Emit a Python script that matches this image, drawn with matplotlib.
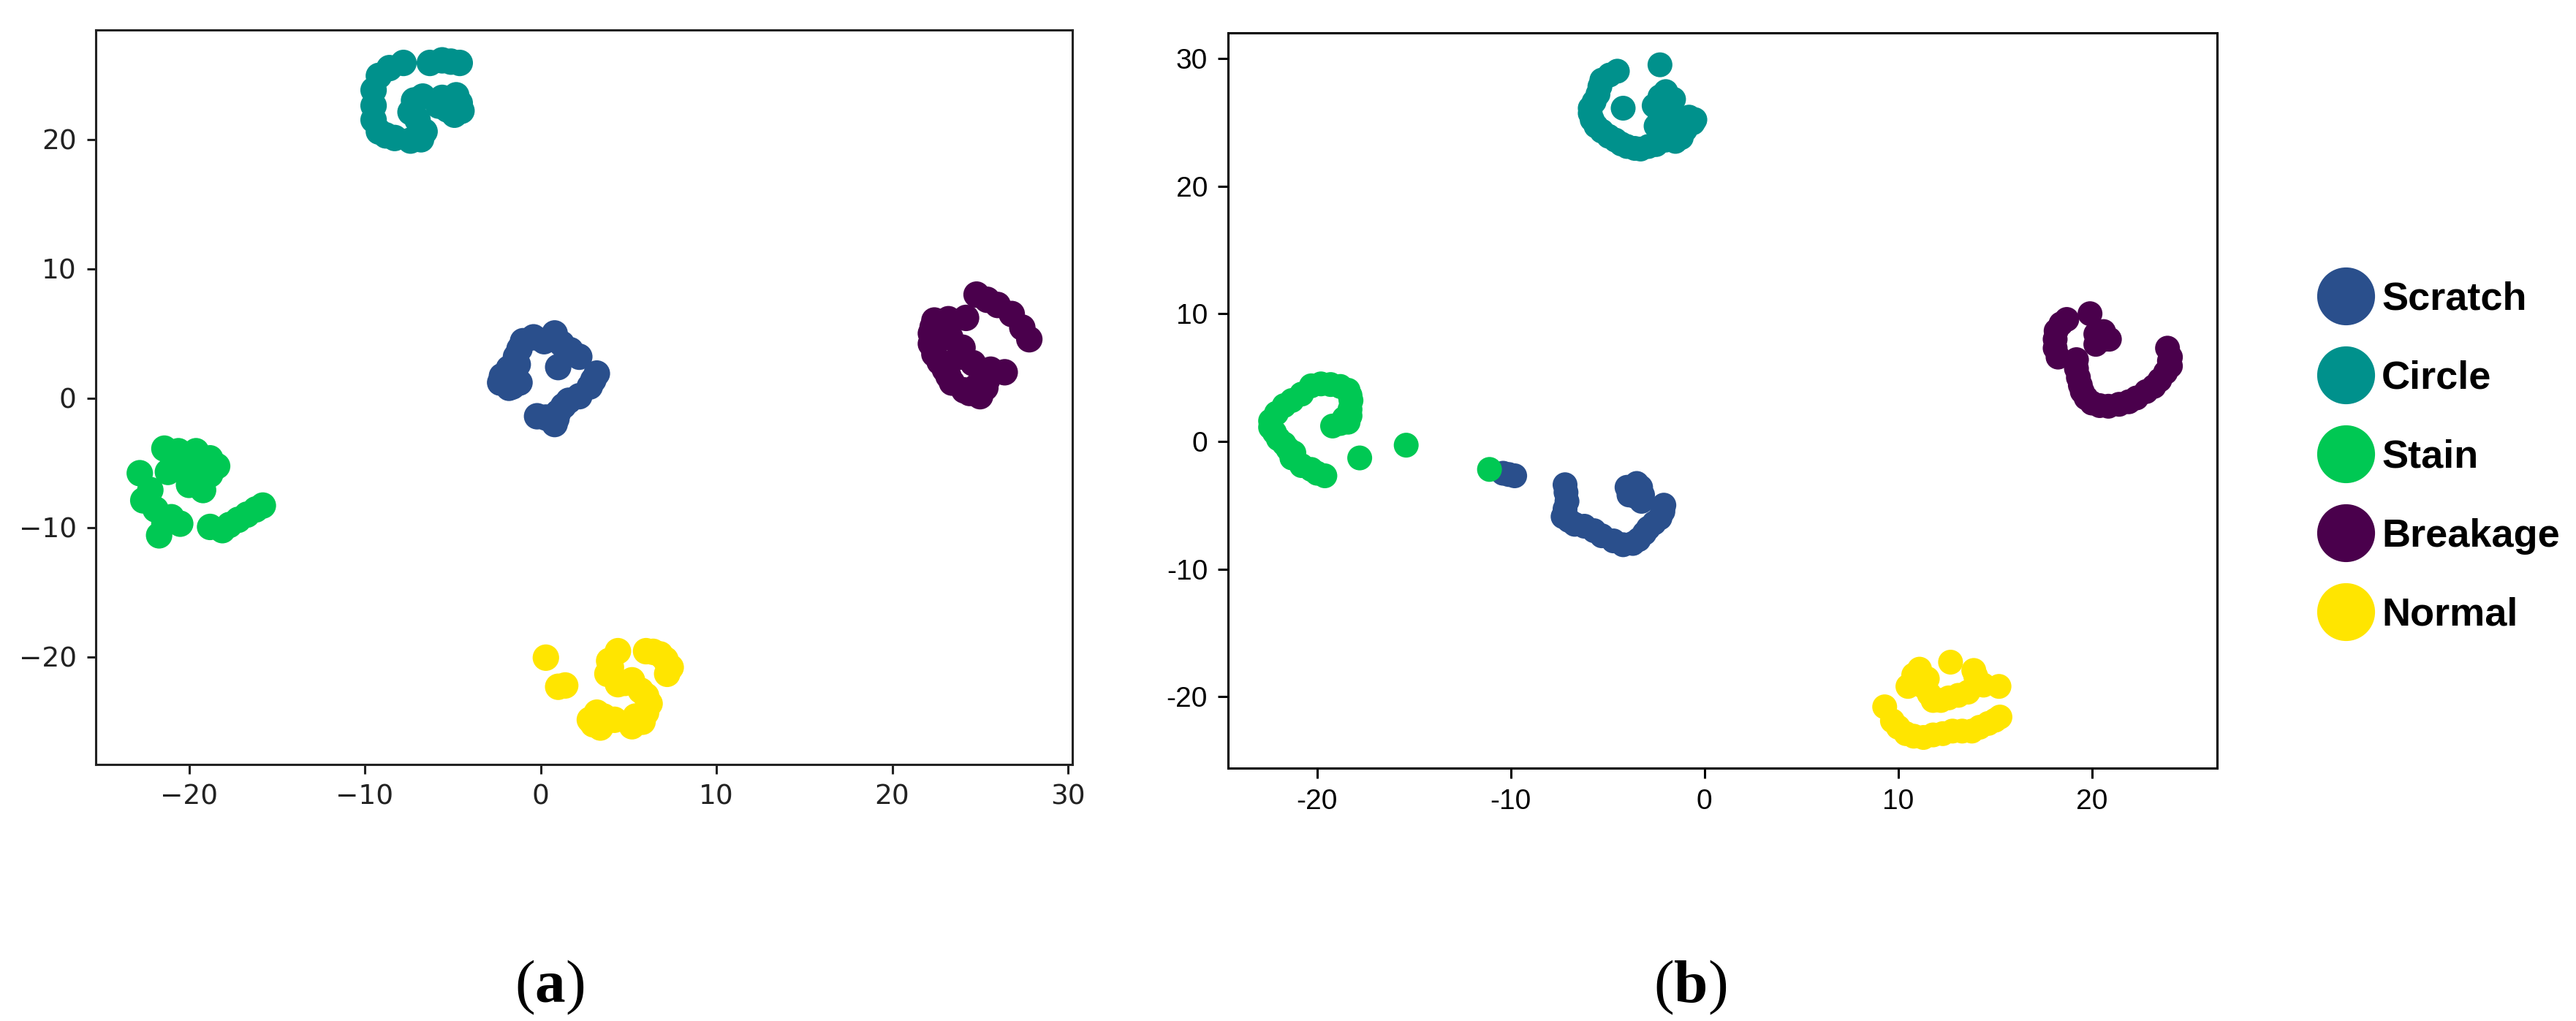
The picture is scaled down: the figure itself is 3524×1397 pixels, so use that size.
import matplotlib.pyplot as plt
from matplotlib.lines import Line2D
from matplotlib.ticker import FuncFormatter

plt.rcParams['mathtext.fontset'] = 'custom'
plt.rcParams['mathtext.rm'] = 'Liberation Serif'
plt.rcParams['mathtext.bf'] = 'Liberation Serif:bold'

classes = ['Scratch', 'Circle', 'Stain', 'Breakage', 'Normal']
colors = ['#2a4f8c', '#00918c', '#00c853', '#4a004c', '#ffe500']

# ---- panel (a) embedding ----
scratch_a = [(-2.0, 1.4), (-2.2, 1.7), (-1.6, 0.9), (-1.2, 1.2), (-1.8, 0.8), (-2.3, 1.2),
             (-1.8, 2.3), (-1.3, 2.6), (-1.4, 3.2), (-1.2, 3.8), (-1.0, 4.4), (-0.4, 4.7),
             (0.2, 4.4), (0.8, 5.0), (1.2, 4.2), (1.0, 2.4), (1.7, 3.7), (2.2, 3.2),
             (3.2, 1.9), (3.0, 1.4), (2.8, 0.9), (2.2, 0.15), (1.6, -0.2), (1.3, -0.6),
             (1.0, -1.1), (0.9, -1.6), (0.8, -2.0), (-0.2, -1.4), (0.3, -1.5)]
circle_a = [(-7.8, 25.9), (-8.6, 25.5), (-9.2, 24.9), (-9.5, 23.8), (-9.5, 22.6), (-9.5, 21.5),
            (-9.2, 20.6), (-8.3, 20.1), (-7.4, 19.9), (-6.8, 20.0), (-6.6, 20.6), (-7.0, 21.5),
            (-7.4, 22.1), (-7.2, 23.0), (-6.7, 23.3), (-5.6, 23.2), (-4.6, 22.8), (-4.9, 21.9),
            (-5.3, 22.3), (-4.8, 23.4), (-5.8, 22.6), (-4.5, 22.2), (-6.3, 25.9), (-5.6, 26.1),
            (-4.6, 25.9), (-5.1, 26.0), (-8.8, 20.3)]
stain_a = [(-21.4, -3.9), (-20.6, -4.1), (-19.6, -4.1), (-18.8, -4.65), (-18.4, -5.25),
           (-18.8, -5.9), (-19.4, -6.4), (-20.0, -6.7), (-19.2, -7.1), (-19.6, -5.7),
           (-21.2, -5.7), (-22.8, -5.8), (-22.2, -7.1), (-22.6, -7.9), (-21.9, -8.6),
           (-21.4, -9.7), (-21.7, -10.6), (-20.5, -9.7), (-21.0, -9.2), (-18.8, -9.95),
           (-18.1, -10.2), (-17.7, -9.8), (-17.2, -9.4), (-16.7, -9.0), (-16.2, -8.6),
           (-15.8, -8.3), (-20.0, -5.4)]
breakage_a = [(24.8, 8.0), (25.4, 7.6), (26.0, 7.2), (26.8, 6.5), (27.4, 5.45), (27.8, 4.55),
              (22.4, 6.0), (23.2, 6.1), (24.2, 6.2), (22.2, 5.0), (22.3, 5.5), (22.2, 4.2),
              (22.4, 3.4), (22.7, 2.8), (23.0, 2.2), (23.2, 1.7), (23.4, 1.2), (23.3, 4.7),
              (23.8, 3.2), (24.0, 3.9), (24.6, 2.7), (24.8, 0.9), (25.0, 0.15), (24.4, 0.4),
              (24.1, 0.6), (25.3, 0.8), (25.4, 1.4), (26.4, 2.0), (25.6, 2.2)]
normal_a = [(0.3, -20.05), (1.0, -22.3), (1.4, -22.2), (2.8, -24.85), (3.4, -25.45),
            (3.0, -25.2), (3.6, -24.6), (4.2, -24.85), (3.2, -24.3), (4.4, -19.55),
            (3.9, -20.3), (4.0, -20.8), (3.8, -21.3), (4.4, -22.1), (4.8, -22.0),
            (5.2, -21.8), (5.7, -22.6), (6.0, -23.0), (6.2, -23.6), (6.0, -24.3),
            (5.8, -25.0), (5.2, -25.35), (5.4, -24.6), (6.0, -19.55), (6.4, -19.6),
            (6.8, -19.8), (7.1, -20.2), (7.4, -20.8), (7.2, -21.3)]

# ---- panel (b) embedding ----
scratch_b = [(-9.8, -2.7), (-10.1, -2.6), (-10.4, -2.5), (-7.2, -3.4), (-7.15, -4.0),
             (-7.1, -4.7), (-7.2, -5.3), (-7.3, -5.9), (-7.0, -6.2), (-6.7, -6.5),
             (-6.2, -6.65), (-5.7, -7.0), (-5.3, -7.4), (-4.7, -7.8), (-4.2, -8.1),
             (-3.7, -8.0), (-3.4, -7.7), (-3.1, -7.2), (-2.9, -6.8), (-2.6, -6.4),
             (-2.3, -6.0), (-2.15, -5.5), (-2.1, -5.0), (-3.7, -3.7), (-4.0, -3.6),
             (-3.3, -3.6), (-3.6, -4.3), (-3.25, -4.7), (-3.5, -3.3), (-3.9, -4.2),
             (-3.2, -4.2)]
circle_b = [(-2.3, 29.5), (-4.5, 29.0), (-4.9, 28.7), (-5.3, 28.3), (-5.4, 27.8), (-5.5, 27.2),
            (-5.7, 26.6), (-5.9, 26.1), (-5.9, 25.7), (-5.8, 25.2), (-5.6, 24.7), (-5.3, 24.3),
            (-4.95, 23.9), (-4.6, 23.6), (-4.3, 23.3), (-4.0, 23.1), (-3.6, 22.95), (-3.3, 22.9),
            (-2.9, 23.1), (-2.5, 23.25), (-4.2, 26.1), (-2.3, 27.0), (-1.6, 26.8), (-2.0, 26.3),
            (-2.6, 26.3), (-2.3, 25.6), (-1.8, 25.4), (-2.5, 24.7), (-2.0, 23.6), (-1.5, 23.5),
            (-1.6, 24.2), (-1.2, 23.8), (-1.0, 24.4), (-0.5, 25.2), (-0.6, 24.95), (-0.8, 25.4),
            (-2.0, 27.4), (-1.9, 24.8)]
stain_b = [(-20.3, 4.35), (-19.8, 4.5), (-19.3, 4.45), (-18.8, 4.3), (-18.4, 4.0), (-18.3, 3.6),
           (-18.25, 3.2), (-18.3, 2.5), (-18.3, 2.0), (-18.6, 1.8), (-18.8, 1.4), (-19.2, 1.2),
           (-18.4, 1.5), (-20.8, 3.7), (-21.3, 3.2), (-21.7, 2.8), (-22.1, 2.2), (-22.4, 1.6),
           (-22.4, 1.1), (-22.2, 0.7), (-22.0, 0.2), (-21.7, -0.2), (-21.5, -0.6), (-21.2, -0.9),
           (-21.3, -1.3), (-20.8, -1.9), (-20.3, -2.2), (-20.0, -2.5), (-19.6, -2.7),
           (-17.8, -1.3), (-15.4, -0.3), (-11.1, -2.2)]
breakage_b = [(18.7, 9.55), (18.4, 9.2), (18.15, 8.65), (18.1, 8.0), (18.1, 7.3), (18.25, 6.6),
              (19.9, 10.0), (20.4, 8.1), (20.2, 8.4), (20.7, 8.0), (20.2, 7.6), (20.6, 8.6),
              (20.9, 8.0), (19.2, 6.4), (19.2, 5.7),
              (19.3, 5.0), (19.4, 4.4), (19.5, 3.9), (19.7, 3.4), (20.0, 3.0), (20.4, 2.8),
              (20.85, 2.75), (21.4, 2.9), (21.9, 3.1), (22.3, 3.4), (22.8, 3.9), (23.2, 4.3),
              (23.5, 4.8), (23.8, 5.4), (24.05, 5.9), (24.0, 6.3), (24.05, 6.6), (23.9, 7.3)]
normal_b = [(12.7, -17.3), (10.8, -18.3), (11.1, -17.85), (11.0, -18.8), (10.5, -19.2),
            (11.3, -19.2), (11.6, -19.8), (11.8, -20.3), (12.2, -20.3), (12.6, -20.1),
            (13.1, -19.9), (13.6, -19.65), (14.0, -18.4), (13.9, -17.95), (14.1, -19.0),
            (14.4, -19.1), (15.2, -19.2), (9.3, -20.8), (9.7, -21.9), (10.0, -22.4),
            (10.4, -22.9), (10.8, -23.1), (11.3, -23.2), (11.8, -23.0), (12.3, -22.9),
            (12.8, -22.7), (13.3, -22.7), (13.8, -22.7), (14.2, -22.4), (14.65, -22.1),
            (15.0, -21.85), (15.25, -21.6), (11.5, -18.6)]

groups_a = [scratch_a, circle_a, stain_a, breakage_a, normal_a]
groups_b = [scratch_b, circle_b, stain_b, breakage_b, normal_b]


def draw(ax, groups, size):
    for pts, c in zip(groups, colors):
        xs = [p[0] for p in pts]
        ys = [p[1] for p in pts]
        ax.scatter(xs, ys, s=size, c=c, edgecolors='none')


fig = plt.figure(figsize=(35.24, 13.97), dpi=100)
ax1 = fig.add_axes([0.0372, 0.2513, 0.3791, 0.7194])
ax2 = fig.add_axes([0.4767, 0.2477, 0.3839, 0.7201])

# (a)
draw(ax1, groups_a, 680)
ax1.set_xlim(-25.3, 30.25)
ax1.set_ylim(-28.3, 28.45)
ax1.set_xticks([-20, -10, 0, 10, 20, 30])
ax1.set_yticks([-20, -10, 0, 10, 20])
ax1.tick_params(labelsize=27, length=9, width=2.2, pad=10, colors='#222222')
for sp in ax1.spines.values():
    sp.set_linewidth(2.2)
    sp.set_color('#222222')

# (b)
draw(ax2, groups_b, 600)
ax2.set_xlim(-24.6, 26.45)
ax2.set_ylim(-25.6, 32.0)
ax2.set_xticks([-20, -10, 0, 10, 20])
ax2.set_yticks([-20, -10, 0, 10, 20, 30])
ax2.xaxis.set_major_formatter(FuncFormatter(lambda v, p: f'{v:g}'))
ax2.yaxis.set_major_formatter(FuncFormatter(lambda v, p: f'{v:g}'))
ax2.tick_params(labelsize=28, length=10, width=2.2, pad=10, colors='black')
for lab in ax2.get_xticklabels() + ax2.get_yticklabels():
    lab.set_family('Liberation Sans')
for sp in ax2.spines.values():
    sp.set_linewidth(2.2)

handles = [Line2D([], [], ls='none', marker='o', markersize=57, markerfacecolor=c,
                  markeredgecolor='none') for c in colors]
fig.legend(handles, classes, loc='center left', bbox_to_anchor=(0.903, 0.552),
           frameon=False, prop=dict(family='Liberation Sans', weight='bold', size=39),
           handlelength=1.0, handletextpad=0.4, labelspacing=1.07,
           borderpad=0, borderaxespad=0)

fig.text(0.2134, 0.033, r'($\mathbf{a}$)', ha='center', va='center',
         family='Liberation Serif', fontsize=60)
fig.text(0.656, 0.033, r'($\mathbf{b}$)', ha='center', va='center',
         family='Liberation Serif', fontsize=60)

fig.savefig('out.png', dpi=100, facecolor='white')
